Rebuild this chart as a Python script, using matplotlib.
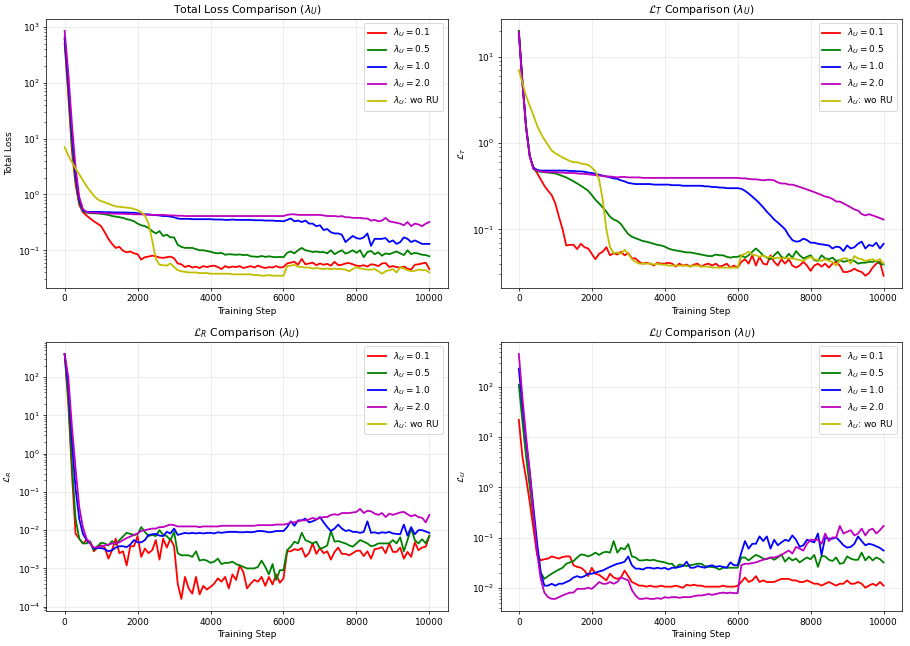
import matplotlib
matplotlib.use('Agg')
import matplotlib.pyplot as plt


steps = list(range(0, 10001, 100))

labels = [r'$\lambda_U = 0.1$', r'$\lambda_U = 0.5$', r'$\lambda_U = 1.0$',
	r'$\lambda_U = 2.0$', r'$\lambda_U$: wo RU']
colors = ['r', 'g', 'b', 'm', 'y']

# ---- total loss ----
total_01 = [500, 60, 6, 1.5, 0.65, 0.48, 0.42, 0.37, 0.33, 0.30,
	0.27, 0.21, 0.16, 0.13, 0.11, 0.115, 0.098, 0.092, 0.095, 0.088,
	0.085, 0.068, 0.075, 0.077, 0.08, 0.078, 0.074, 0.073, 0.075, 0.077,
	0.072, 0.058, 0.056, 0.05, 0.053, 0.049, 0.051, 0.048, 0.052, 0.05,
	0.052, 0.053, 0.05, 0.046, 0.052, 0.049, 0.051, 0.05, 0.052, 0.048,
	0.05, 0.052, 0.049, 0.053, 0.05, 0.048, 0.05, 0.049, 0.052, 0.049,
	0.05, 0.058, 0.06, 0.062, 0.055, 0.07, 0.056, 0.058, 0.06, 0.054,
	0.058, 0.055, 0.057, 0.053, 0.062, 0.054, 0.055, 0.058, 0.059, 0.056,
	0.053, 0.052, 0.054, 0.051, 0.056, 0.055, 0.052, 0.058, 0.059, 0.05,
	0.052, 0.05, 0.049, 0.051, 0.047, 0.045, 0.055, 0.056, 0.058, 0.06,
	0.046]
total_05 = [600, 80, 8, 1.8, 0.7, 0.5, 0.47, 0.46, 0.46, 0.455,
	0.45, 0.44, 0.43, 0.41, 0.4, 0.39, 0.38, 0.36, 0.35, 0.33,
	0.3, 0.28, 0.27, 0.25, 0.22, 0.2, 0.22, 0.18, 0.19, 0.17,
	0.17, 0.125, 0.115, 0.11, 0.11, 0.11, 0.105, 0.1, 0.1, 0.097,
	0.094, 0.09, 0.088, 0.09, 0.083, 0.085, 0.084, 0.083, 0.084, 0.082,
	0.083, 0.078, 0.077, 0.076, 0.079, 0.076, 0.078, 0.076, 0.075, 0.076,
	0.075, 0.09, 0.095, 0.088, 0.1, 0.11, 0.1, 0.097, 0.093, 0.095,
	0.092, 0.093, 0.088, 0.1, 0.085, 0.093, 0.1, 0.087, 0.092, 0.1,
	0.09, 0.1, 0.075, 0.093, 0.097, 0.085, 0.092, 0.08, 0.088, 0.085,
	0.09, 0.095, 0.088, 0.082, 0.1, 0.085, 0.09, 0.087, 0.083, 0.082,
	0.078]
total_10 = [650, 100, 12, 2.2, 0.8, 0.52, 0.49, 0.485, 0.485, 0.485,
	0.485, 0.48, 0.48, 0.478, 0.475, 0.475, 0.475, 0.473, 0.47, 0.47,
	0.46, 0.45, 0.44, 0.44, 0.43, 0.425, 0.42, 0.41, 0.41, 0.4,
	0.39, 0.37, 0.365, 0.365, 0.365, 0.36, 0.36, 0.36, 0.36, 0.36,
	0.36, 0.355, 0.355, 0.355, 0.35, 0.35, 0.355, 0.35, 0.35, 0.35,
	0.35, 0.35, 0.345, 0.345, 0.345, 0.34, 0.34, 0.34, 0.335, 0.335,
	0.33, 0.35, 0.37, 0.33, 0.34, 0.32, 0.34, 0.3, 0.3, 0.27,
	0.28, 0.23, 0.24, 0.21, 0.2, 0.2, 0.19, 0.14, 0.16, 0.18,
	0.165, 0.16, 0.17, 0.2, 0.12, 0.16, 0.16, 0.16, 0.165, 0.14,
	0.15, 0.13, 0.14, 0.17, 0.16, 0.14, 0.15, 0.14, 0.13, 0.13,
	0.13]
total_20 = [850, 150, 18, 3, 0.9, 0.55, 0.48, 0.47, 0.47, 0.465,
	0.46, 0.46, 0.455, 0.455, 0.45, 0.45, 0.45, 0.445, 0.445, 0.44,
	0.44, 0.44, 0.435, 0.43, 0.43, 0.43, 0.43, 0.43, 0.425, 0.42,
	0.42, 0.415, 0.415, 0.41, 0.41, 0.41, 0.41, 0.41, 0.41, 0.41,
	0.41, 0.41, 0.41, 0.41, 0.41, 0.41, 0.41, 0.41, 0.41, 0.41,
	0.41, 0.41, 0.41, 0.41, 0.41, 0.41, 0.41, 0.41, 0.41, 0.41,
	0.41, 0.43, 0.44, 0.44, 0.43, 0.43, 0.43, 0.43, 0.43, 0.43,
	0.43, 0.42, 0.41, 0.41, 0.41, 0.4, 0.41, 0.39, 0.39, 0.38,
	0.38, 0.38, 0.37, 0.37, 0.34, 0.35, 0.33, 0.34, 0.38, 0.33,
	0.32, 0.31, 0.3, 0.28, 0.32, 0.27, 0.3, 0.29, 0.27, 0.3,
	0.32]
total_wo = [7, 5, 3.8, 2.9, 2.3, 1.8, 1.4, 1.15, 0.95, 0.82,
	0.76, 0.72, 0.68, 0.64, 0.61, 0.6, 0.59, 0.58, 0.57, 0.55,
	0.52, 0.48, 0.42, 0.3, 0.15, 0.07, 0.055, 0.054, 0.053, 0.058,
	0.05, 0.044, 0.042, 0.041, 0.04, 0.04, 0.04, 0.039, 0.039, 0.039,
	0.038, 0.038, 0.038, 0.038, 0.038, 0.038, 0.037, 0.037, 0.037, 0.037,
	0.037, 0.037, 0.036, 0.036, 0.035, 0.035, 0.036, 0.035, 0.035, 0.035,
	0.035, 0.052, 0.053, 0.055, 0.051, 0.05, 0.049, 0.049, 0.047, 0.048,
	0.047, 0.046, 0.047, 0.046, 0.047, 0.046, 0.046, 0.045, 0.042, 0.046,
	0.05, 0.047, 0.046, 0.045, 0.045, 0.046, 0.042, 0.038, 0.042, 0.044,
	0.046, 0.04, 0.05, 0.047, 0.044, 0.042, 0.043, 0.045, 0.044, 0.044,
	0.04]

# ---- L_T ----
lt_01 = [20, 5, 1.5, 0.7, 0.52, 0.45, 0.38, 0.32, 0.28, 0.25,
	0.2, 0.14, 0.1, 0.065, 0.066, 0.066, 0.059, 0.068, 0.062, 0.06,
	0.052, 0.045, 0.052, 0.055, 0.062, 0.05, 0.053, 0.051, 0.055, 0.05,
	0.053, 0.046, 0.046, 0.042, 0.04, 0.041, 0.04, 0.038, 0.041, 0.04,
	0.04, 0.041, 0.04, 0.037, 0.04, 0.038, 0.039, 0.037, 0.039, 0.04,
	0.037, 0.039, 0.04, 0.038, 0.04, 0.037, 0.038, 0.04, 0.036, 0.038,
	0.036, 0.042, 0.045, 0.04, 0.05, 0.038, 0.048, 0.04, 0.039, 0.05,
	0.042, 0.038, 0.045, 0.04, 0.045, 0.038, 0.036, 0.038, 0.042, 0.038,
	0.033, 0.038, 0.04, 0.037, 0.04, 0.036, 0.04, 0.042, 0.038, 0.032,
	0.032, 0.033, 0.035, 0.033, 0.032, 0.029, 0.031, 0.036, 0.04, 0.042,
	0.029]
lt_05 = [20, 5, 1.6, 0.72, 0.5, 0.47, 0.465, 0.46, 0.455, 0.45,
	0.445, 0.43, 0.415, 0.4, 0.38, 0.36, 0.34, 0.32, 0.3, 0.28,
	0.25, 0.22, 0.2, 0.18, 0.16, 0.14, 0.13, 0.125, 0.115, 0.1,
	0.088, 0.082, 0.079, 0.076, 0.073, 0.072, 0.07, 0.068, 0.066, 0.065,
	0.063, 0.06, 0.058, 0.057, 0.056, 0.055, 0.054, 0.054, 0.053, 0.052,
	0.051, 0.05, 0.049, 0.049, 0.051, 0.05, 0.05, 0.048, 0.047, 0.048,
	0.048, 0.05, 0.047, 0.05, 0.055, 0.06, 0.055, 0.05, 0.047, 0.045,
	0.05, 0.055, 0.048, 0.046, 0.052, 0.047, 0.056, 0.05, 0.046, 0.048,
	0.05, 0.044, 0.043, 0.05, 0.046, 0.045, 0.047, 0.043, 0.044, 0.042,
	0.043, 0.044, 0.043, 0.04, 0.041, 0.041, 0.042, 0.042, 0.043, 0.04,
	0.039]
lt_10 = [19, 5, 1.5, 0.7, 0.52, 0.49, 0.48, 0.48, 0.48, 0.48,
	0.48, 0.48, 0.48, 0.48, 0.475, 0.475, 0.47, 0.47, 0.465, 0.455,
	0.45, 0.44, 0.43, 0.42, 0.41, 0.4, 0.39, 0.385, 0.37, 0.36,
	0.345, 0.34, 0.335, 0.335, 0.335, 0.335, 0.335, 0.33, 0.33, 0.33,
	0.33, 0.33, 0.325, 0.325, 0.325, 0.32, 0.32, 0.32, 0.32, 0.32,
	0.32, 0.315, 0.315, 0.31, 0.31, 0.305, 0.305, 0.3, 0.3, 0.3,
	0.3, 0.295, 0.28, 0.26, 0.24, 0.22, 0.2, 0.18, 0.16, 0.145,
	0.13, 0.12, 0.11, 0.1, 0.085, 0.075, 0.072, 0.073, 0.078, 0.075,
	0.07, 0.07, 0.068, 0.067, 0.066, 0.065, 0.06, 0.063, 0.062, 0.056,
	0.065, 0.06, 0.062, 0.068, 0.072, 0.06, 0.066, 0.064, 0.07, 0.06,
	0.068]
lt_20 = [19, 5, 1.5, 0.7, 0.5, 0.48, 0.47, 0.465, 0.46, 0.46,
	0.46, 0.455, 0.455, 0.45, 0.45, 0.45, 0.445, 0.44, 0.44, 0.435,
	0.43, 0.425, 0.42, 0.415, 0.41, 0.41, 0.405, 0.4, 0.405, 0.405,
	0.4, 0.4, 0.4, 0.4, 0.395, 0.395, 0.395, 0.395, 0.395, 0.395,
	0.395, 0.395, 0.395, 0.395, 0.395, 0.395, 0.395, 0.395, 0.395, 0.395,
	0.395, 0.395, 0.395, 0.395, 0.395, 0.395, 0.395, 0.395, 0.395, 0.395,
	0.395, 0.39, 0.39, 0.385, 0.38, 0.38, 0.375, 0.37, 0.375, 0.375,
	0.37, 0.35, 0.34, 0.34, 0.33, 0.33, 0.32, 0.31, 0.3, 0.29,
	0.28, 0.27, 0.26, 0.25, 0.24, 0.235, 0.225, 0.21, 0.21, 0.2,
	0.19, 0.18, 0.17, 0.165, 0.15, 0.145, 0.15, 0.145, 0.14, 0.135,
	0.13]
lt_wo = [7, 5, 3.5, 2.7, 2.1, 1.6, 1.3, 1.1, 0.95, 0.82,
	0.76, 0.72, 0.68, 0.65, 0.62, 0.6, 0.6, 0.58, 0.57, 0.56,
	0.52, 0.47, 0.38, 0.22, 0.1, 0.062, 0.053, 0.054, 0.052, 0.058,
	0.052, 0.045, 0.042, 0.04, 0.04, 0.04, 0.04, 0.039, 0.04, 0.039,
	0.039, 0.038, 0.038, 0.038, 0.038, 0.038, 0.038, 0.037, 0.038, 0.038,
	0.037, 0.037, 0.037, 0.036, 0.036, 0.036, 0.036, 0.036, 0.036, 0.036,
	0.036, 0.05, 0.052, 0.055, 0.051, 0.05, 0.048, 0.05, 0.047, 0.048,
	0.046, 0.047, 0.046, 0.047, 0.046, 0.046, 0.045, 0.044, 0.043, 0.046,
	0.048, 0.045, 0.044, 0.043, 0.045, 0.043, 0.042, 0.038, 0.044, 0.046,
	0.046, 0.04, 0.049, 0.046, 0.045, 0.043, 0.044, 0.045, 0.043, 0.045,
	0.04]

# ---- L_R ----
lr_01 = [400, 20, 0.3, 0.008, 0.006, 0.0045, 0.0055, 0.005, 0.0028, 0.0035,
	0.004, 0.0035, 0.0018, 0.003, 0.006, 0.0025, 0.0028, 0.0012, 0.0038, 0.0038,
	0.007, 0.002, 0.0033, 0.0025, 0.003, 0.0055, 0.0017, 0.006, 0.0035, 0.006,
	0.0038, 0.0004, 0.00016, 0.0006, 0.0003, 0.00022, 0.0006, 0.00021, 0.00035, 0.00028,
	0.00033, 0.0004, 0.00055, 0.00045, 0.0006, 0.0003, 0.0007, 0.0005, 0.0012, 0.0008,
	0.0003, 0.0004, 0.0005, 0.00045, 0.0006, 0.00035, 0.0006, 0.00038, 0.0007, 0.00042,
	0.00055, 0.0028, 0.0028, 0.0032, 0.003, 0.0034, 0.002, 0.0025, 0.0045, 0.0024,
	0.0034, 0.0025, 0.0028, 0.0017, 0.0027, 0.0035, 0.0024, 0.0024, 0.0022, 0.0025,
	0.0029, 0.0029, 0.0021, 0.0028, 0.0018, 0.0032, 0.0033, 0.0036, 0.0025, 0.0045,
	0.0027, 0.0027, 0.0035, 0.0018, 0.0027, 0.002, 0.0048, 0.003, 0.0035, 0.0037,
	0.007]
lr_05 = [400, 30, 0.5, 0.02, 0.006, 0.0045, 0.0045, 0.005, 0.003, 0.0038,
	0.0047, 0.0045, 0.004, 0.0052, 0.0042, 0.0055, 0.0068, 0.0085, 0.008, 0.0075,
	0.0078, 0.012, 0.009, 0.007, 0.0075, 0.007, 0.01, 0.0075, 0.007, 0.0055,
	0.009, 0.0025, 0.0022, 0.0022, 0.0022, 0.002, 0.0028, 0.0016, 0.0017, 0.0016,
	0.0014, 0.0015, 0.0018, 0.0013, 0.0014, 0.0014, 0.0015, 0.0013, 0.0012, 0.0011,
	0.001, 0.001, 0.001, 0.0011, 0.0016, 0.0011, 0.0007, 0.0013, 0.0005, 0.0009,
	0.0009, 0.003, 0.0037, 0.005, 0.0045, 0.0085, 0.0055, 0.005, 0.0045, 0.005,
	0.0033, 0.0035, 0.004, 0.0095, 0.005, 0.0052, 0.0048, 0.0045, 0.004, 0.0037,
	0.0045, 0.0055, 0.005, 0.0045, 0.0038, 0.004, 0.0045, 0.0045, 0.0045, 0.0045,
	0.0055, 0.0045, 0.0065, 0.0028, 0.0055, 0.011, 0.0055, 0.0045, 0.0058, 0.0045,
	0.0072]
lr_10 = [400, 60, 2, 0.12, 0.02, 0.008, 0.0055, 0.0045, 0.0033, 0.0034,
	0.0034, 0.0032, 0.0028, 0.003, 0.0035, 0.0038, 0.0038, 0.0036, 0.0042, 0.0055,
	0.0048, 0.0048, 0.0055, 0.0075, 0.0078, 0.008, 0.0072, 0.007, 0.009, 0.0082,
	0.011, 0.0075, 0.008, 0.0085, 0.0082, 0.0085, 0.0082, 0.0085, 0.0082, 0.0085,
	0.0085, 0.0082, 0.0088, 0.0085, 0.0088, 0.009, 0.009, 0.009, 0.0088, 0.0088,
	0.009, 0.0088, 0.009, 0.0095, 0.0095, 0.0092, 0.0088, 0.009, 0.0095, 0.0095,
	0.0095, 0.012, 0.017, 0.013, 0.018, 0.018, 0.02, 0.016, 0.017, 0.019,
	0.022, 0.016, 0.012, 0.0095, 0.011, 0.014, 0.011, 0.0095, 0.01, 0.009,
	0.009, 0.0085, 0.009, 0.017, 0.0085, 0.0088, 0.0082, 0.0088, 0.0085, 0.009,
	0.0082, 0.008, 0.0078, 0.014, 0.0072, 0.012, 0.0078, 0.01, 0.01, 0.0092,
	0.0085]
lr_20 = [400, 100, 5, 0.4, 0.04, 0.012, 0.006, 0.0045, 0.0035, 0.0036,
	0.0038, 0.004, 0.0042, 0.0045, 0.0045, 0.0048, 0.0055, 0.0062, 0.0068, 0.0075,
	0.0082, 0.0095, 0.01, 0.0105, 0.011, 0.011, 0.012, 0.012, 0.013, 0.014,
	0.0135, 0.0125, 0.0125, 0.0125, 0.0125, 0.0125, 0.0125, 0.012, 0.0125, 0.0125,
	0.0125, 0.0125, 0.0125, 0.013, 0.013, 0.013, 0.013, 0.013, 0.013, 0.013,
	0.013, 0.013, 0.013, 0.0135, 0.0135, 0.0135, 0.0135, 0.0135, 0.014, 0.014,
	0.014, 0.0145, 0.016, 0.016, 0.017, 0.018, 0.018, 0.019, 0.021, 0.019,
	0.021, 0.022, 0.022, 0.025, 0.026, 0.025, 0.028, 0.028, 0.028, 0.029,
	0.03, 0.036, 0.028, 0.032, 0.031, 0.027, 0.025, 0.028, 0.022, 0.027,
	0.025, 0.027, 0.029, 0.03, 0.026, 0.023, 0.025, 0.022, 0.021, 0.016,
	0.025]
lr_wo = [0.0] * 101  # no RU term, nothing to show on log axis

# ---- L_U ----
lu_01 = [22, 4, 1.5, 0.5, 0.15, 0.045, 0.035, 0.037, 0.038, 0.042,
	0.04, 0.038, 0.041, 0.042, 0.042, 0.028, 0.026, 0.025, 0.022, 0.017,
	0.025, 0.019, 0.018, 0.016, 0.014, 0.019, 0.016, 0.015, 0.016, 0.022,
	0.017, 0.013, 0.012, 0.011, 0.011, 0.0105, 0.011, 0.0105, 0.0105, 0.011,
	0.0105, 0.0105, 0.0105, 0.011, 0.0105, 0.01, 0.0115, 0.011, 0.0115, 0.011,
	0.011, 0.0105, 0.0105, 0.0105, 0.0105, 0.0105, 0.011, 0.0105, 0.0105, 0.0105,
	0.011, 0.013, 0.016, 0.013, 0.014, 0.017, 0.013, 0.014, 0.013, 0.013,
	0.013, 0.014, 0.015, 0.015, 0.015, 0.014, 0.014, 0.013, 0.013, 0.014,
	0.013, 0.012, 0.012, 0.011, 0.012, 0.013, 0.012, 0.011, 0.012, 0.012,
	0.014, 0.012, 0.012, 0.013, 0.012, 0.01, 0.011, 0.012, 0.011, 0.013,
	0.011]
lu_05 = [110, 20, 4, 1, 0.25, 0.06, 0.02, 0.015, 0.017, 0.019,
	0.021, 0.023, 0.025, 0.03, 0.032, 0.034, 0.04, 0.046, 0.045, 0.042,
	0.045, 0.05, 0.045, 0.05, 0.052, 0.05, 0.085, 0.05, 0.062, 0.058,
	0.074, 0.042, 0.04, 0.035, 0.035, 0.036, 0.035, 0.036, 0.034, 0.033,
	0.032, 0.03, 0.03, 0.025, 0.029, 0.028, 0.027, 0.028, 0.029, 0.03,
	0.03, 0.027, 0.026, 0.026, 0.025, 0.023, 0.025, 0.025, 0.025, 0.025,
	0.025, 0.04, 0.04, 0.035, 0.04, 0.045, 0.042, 0.038, 0.037, 0.04,
	0.036, 0.04, 0.046, 0.033, 0.04, 0.035, 0.038, 0.032, 0.036, 0.04,
	0.037, 0.045, 0.026, 0.043, 0.042, 0.036, 0.034, 0.04, 0.03, 0.031,
	0.042, 0.038, 0.036, 0.036, 0.05, 0.035, 0.042, 0.035, 0.04, 0.037,
	0.032]
lu_10 = [230, 40, 8, 2, 0.4, 0.08, 0.02, 0.011, 0.011, 0.012,
	0.011, 0.012, 0.012, 0.013, 0.014, 0.016, 0.017, 0.016, 0.017, 0.019,
	0.019, 0.02, 0.021, 0.022, 0.024, 0.026, 0.028, 0.03, 0.031, 0.033,
	0.042, 0.028, 0.024, 0.024, 0.023, 0.025, 0.025, 0.024, 0.025, 0.024,
	0.025, 0.023, 0.025, 0.025, 0.026, 0.027, 0.033, 0.025, 0.025, 0.027,
	0.026, 0.025, 0.027, 0.028, 0.026, 0.027, 0.026, 0.025, 0.032, 0.028,
	0.028, 0.05, 0.085, 0.06, 0.075, 0.075, 0.105, 0.085, 0.105, 0.06,
	0.09, 0.07, 0.08, 0.09, 0.085, 0.11, 0.09, 0.065, 0.07, 0.09,
	0.085, 0.08, 0.12, 0.045, 0.1, 0.095, 0.095, 0.1, 0.085, 0.07,
	0.063, 0.065, 0.075, 0.105, 0.085, 0.07, 0.075, 0.072, 0.067, 0.062,
	0.055]
lu_20 = [450, 60, 10, 2, 0.3, 0.05, 0.015, 0.008, 0.0065, 0.006,
	0.006, 0.0065, 0.007, 0.0075, 0.008, 0.008, 0.0095, 0.0095, 0.0095, 0.01,
	0.0095, 0.011, 0.013, 0.012, 0.012, 0.013, 0.012, 0.013, 0.016, 0.015,
	0.014, 0.009, 0.007, 0.006, 0.006, 0.0062, 0.006, 0.006, 0.0062, 0.006,
	0.0065, 0.0063, 0.0065, 0.0065, 0.0063, 0.0065, 0.0065, 0.0065, 0.0068, 0.007,
	0.007, 0.0072, 0.0075, 0.0072, 0.0075, 0.0078, 0.008, 0.0078, 0.008, 0.0078,
	0.0078, 0.028, 0.03, 0.03, 0.031, 0.032, 0.034, 0.036, 0.038, 0.04,
	0.04, 0.042, 0.045, 0.05, 0.055, 0.048, 0.065, 0.06, 0.055, 0.075,
	0.09, 0.09, 0.09, 0.075, 0.12, 0.085, 0.1, 0.1, 0.17, 0.12,
	0.13, 0.14, 0.11, 0.12, 0.15, 0.11, 0.14, 0.15, 0.12, 0.14,
	0.17]
lu_wo = [0.0] * 101


def plot_panel(ax, series, title, ylabel):
	"""One log-scale comparison panel"""
	for vals, lab, col in zip(series, labels, colors):
		ax.plot(steps, vals, color=col, label=lab, linewidth=2)
	ax.set_yscale('log', nonpositive='mask')
	ax.set_title(title)
	ax.set_xlabel('Training Step')
	ax.set_ylabel(ylabel)
	ax.legend(loc='upper right')
	ax.grid(True, alpha=0.3)


fig, axes = plt.subplots(2, 2, figsize=(14, 9.94), dpi=65)
fig.subplots_adjust(left=0.051, right=0.991, top=0.971, bottom=0.054,
	wspace=0.132, hspace=0.2)

plot_panel(axes[0, 0], [total_01, total_05, total_10, total_20, total_wo],
	r'Total Loss Comparison ($\lambda_U$)', 'Total Loss')
plot_panel(axes[0, 1], [lt_01, lt_05, lt_10, lt_20, lt_wo],
	r'$\mathcal{L}_T$ Comparison ($\lambda_U$)', r'$\mathcal{L}_T$')
plot_panel(axes[1, 0], [lr_01, lr_05, lr_10, lr_20, lr_wo],
	r'$\mathcal{L}_R$ Comparison ($\lambda_U$)', r'$\mathcal{L}_R$')
plot_panel(axes[1, 1], [lu_01, lu_05, lu_10, lu_20, lu_wo],
	r'$\mathcal{L}_U$ Comparison ($\lambda_U$)', r'$\mathcal{L}_U$')

plt.savefig('out.png', dpi=65)
